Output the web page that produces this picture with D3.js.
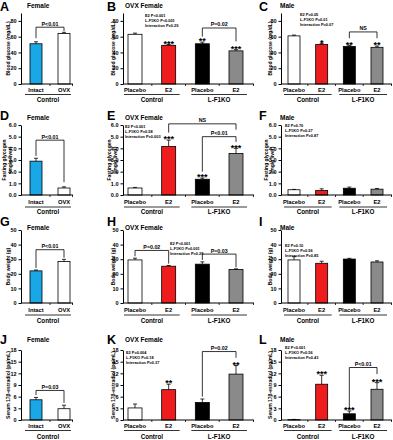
<!DOCTYPE html>
<meta charset="utf-8">
<style>
body { margin: 0; background: #fff; }
svg { font-family: "Liberation Sans", Arial, sans-serif; font-weight: bold; }
.axis path, .axis line { stroke: #000; stroke-width: 1px; }
.axis text { font-size: 5.5px; font-weight: bold; fill: #000; font-family: "Liberation Sans", Arial, sans-serif; }
</style>
<body>
<script src="https://d3js.org/d3.v7.min.js"></script>
<script>

// ---- categories / labels
var femaleCats = ["Intact", "OVX"];
var treatCats = ["Placebo", "E2", "Placebo", "E2"];
var femaleGroups = ["Control"];
var treatGroups = ["Control", "L-F1KO"];

// ---- blood glucose (mg/dL)
var glucoseFemale = [51, 64], glucoseFemaleErr = [2.5, 1.5];
var glucoseOvx = [63, 49, 51, 42], glucoseOvxErr = [1.5, 1, 2, 1.5];
var glucoseMale = [61, 50, 47.5, 46.5], glucoseMaleErr = [1, 1.5, 1.5, 1.5];

// ---- fasting glycogen (mg/g liver)
var glycogenFemale = [2.9, 0.6], glycogenFemaleErr = [0.25, 0.1];
var glycogenOvx = [0.6, 4.15, 1.35, 3.55], glycogenOvxErr = [0.05, 0.55, 0.1, 0.45];
var glycogenMale = [0.45, 0.38, 0.58, 0.5], glycogenMaleErr = [0.03, 0.15, 0.1, 0.06];

// ---- body weight (g)
var weightFemale = [22, 28.4], weightFemaleErr = [0.6, 1.5];
var weightOvx = [29.5, 25.2, 26.6, 22.9], weightOvxErr = [1.2, 0.5, 1.6, 0.5];
var weightMale = [29.5, 27.2, 30.1, 28.1], weightMaleErr = [2.2, 1.4, 0.5, 0.8];

// ---- serum 17b-estradiol (pg/mL)
var estFemale = [5.2, 2.9], estFemaleErr = [0.6, 0.9];
var estOvx = [3.1, 7.8, 4.5, 11.8], estOvxErr = [1.0, 1.4, 0.9, 2.2];
var estMale = [0.1, 9.2, 1.6, 7.9], estMaleErr = [0.05, 2.3, 0.7, 1.7];

// ---- significance marks
var starsGlucoseOvx = ["", "***", "**", "***"];
var starsGlucoseMale = ["", "*", "**", "**"];
var starsGlycogenOvx = ["", "***", "***", "***"];
var starsEstOvx = ["", "**", "", "**"];
var starsEstMale = ["", "***", "***", "***"];
var noStars = ["", "", "", ""];

// ---- two-way ANOVA text
var statsGlucoseOvx = ["E2 P<0.001", "L-F1KO P<0.001", "Interaction P=0.29"];
var statsGlucoseMale = ["E2 P=0.05", "L-F1KO P=0.01", "Interaction P=0.07"];
var statsGlycogenOvx = ["E2 P<0.001", "L-F1KO P=0.58", "Interaction P=0.003"];
var statsGlycogenMale = ["E2 P=0.70", "L-F1KO P=0.27", "Interaction P=0.87"];
var statsWeightOvx = ["E2 P<0.001", "L-F1KO P=0.001", "Interaction P=0.28"];
var statsWeightMale = ["E2 P=0.10", "L-F1KO P=0.56", "Interaction P=0.85"];
var statsEstOvx = ["E2 P=0.004", "L-F1KO P=0.18", "Interaction P=0.37"];
var statsEstMale = ["E2 P<0.001", "L-F1KO P=0.56", "Interaction P=0.43"];

var colors2 = ["#1aa7e6", "#ffffff"];
var colors4 = ["#ffffff", "#ee1c1c", "#000000", "#8a8a8a"];

// layout of the 3 columns and 4 rows
var cols = [
  {axisX: 21, end: 73, c0: 36, c1: 64, barW: 12, letterX: 0, titleX: 27, ylabX: 8},
  {axisX: 123, end: 254, c0: 135, c1: 236, barW: 14, letterX: 107, titleX: 125, ylabX: 113},
  {axisX: 281, end: 392, c0: 294, c1: 377, barW: 12, letterX: 259, titleX: 280, ylabX: 270}
];
var rows = [
  {base: 84, top: 13, max: 90, ticks: [0, 20, 40, 60, 80], titleY: 8, letterY: 11, labY: 91.5, ulY: 94.5, grpY: 102},
  {base: 195, top: 125, max: 6, ticks: [0, 1, 2, 3, 4, 5, 6], titleY: 120, letterY: 119.5, labY: 204, ulY: 207, grpY: 214},
  {base: 303, top: 230, max: 50, ticks: [0, 10, 20, 30, 40, 50], titleY: 230, letterY: 225.5, labY: 312, ulY: 315, grpY: 323},
  {base: 420, top: 350, max: 18, ticks: [0, 3, 6, 9, 12, 15, 18], titleY: 342, letterY: 344, labY: 427.5, ulY: 430.5, grpY: 439}
];

var panels = [
  {letter: "A", title: "Female", col: 0, row: 0, ylab: ["Blood glucose (mg/dL)"], cats: femaleCats, groups: femaleGroups,
   vals: glucoseFemale, errs: glucoseFemaleErr, stars: noStars, brackets: [[0, 1, 72, 58, 67, "P<0.01"]]},
  {letter: "B", title: "OVX Female", col: 1, row: 0, ylab: ["Blood glucose (mg/dL)"], cats: treatCats, groups: treatGroups,
   vals: glucoseOvx, errs: glucoseOvxErr, stars: starsGlucoseOvx, stats: statsGlucoseOvx, statsAt: [22, 17],
   brackets: [[2, 3, 71, 60, 54, "P=0.02"]]},
  {letter: "C", title: "Male", col: 2, row: 0, ylab: ["Blood glucose (mg/dL)"], cats: treatCats, groups: treatGroups,
   vals: glucoseMale, errs: glucoseMaleErr, stars: starsGlucoseMale, stats: statsGlucoseMale, statsAt: [19, 16],
   brackets: [[2, 3, 66, 58, 58, "NS"]]},

  {letter: "D", title: "Female", col: 0, row: 1, ylab: ["Fasting glycogen", "(mg/g liver)"], cats: femaleCats, groups: femaleGroups,
   vals: glycogenFemale, errs: glycogenFemaleErr, stars: noStars, brackets: [[0, 1, 4.7, 3.35, 1.1, "P<0.01"]]},
  {letter: "E", title: "OVX Female", col: 1, row: 1, ylab: ["Fasting glycogen", "(mg/g liver)"], cats: treatCats, groups: treatGroups,
   vals: glycogenOvx, errs: glycogenOvxErr, stars: starsGlycogenOvx, stats: statsGlycogenOvx, statsAt: [2, 128],
   brackets: [[1, 3, 6.1, 5.35, 5.6, "NS"], [2, 3, 5.0, 2.0, 4.55, "P<0.01"]]},
  {letter: "F", title: "Male", col: 2, row: 1, ylab: ["Fasting glycogen", "(mg/g liver)"], cats: treatCats, groups: treatGroups,
   vals: glycogenMale, errs: glycogenMaleErr, stars: noStars, stats: statsGlycogenMale, statsAt: [4, 127], brackets: []},

  {letter: "G", title: "Female", col: 0, row: 2, ylab: ["Body weight (g)"], cats: femaleCats, groups: femaleGroups,
   vals: weightFemale, errs: weightFemaleErr, stars: noStars, brackets: [[0, 1, 36.5, 24, 31, "P<0.01"]]},
  {letter: "H", title: "OVX Female", col: 1, row: 2, ylab: ["Body weight (g)"], cats: treatCats, groups: treatGroups,
   vals: weightOvx, errs: weightOvxErr, stars: noStars, stats: statsWeightOvx, statsAt: [47, 245],
   brackets: [[0, 1, 36, 32, 27, "P=0.02"], [2, 3, 33.5, 29.5, 24.5, "P=0.03"]]},
  {letter: "I", title: "Male", col: 2, row: 2, ylab: ["Body weight (g)"], cats: treatCats, groups: treatGroups,
   vals: weightMale, errs: weightMaleErr, stars: noStars, stats: statsWeightMale, statsAt: [4, 247], brackets: []},

  {letter: "J", title: "Female", col: 0, row: 3, ylab: ["Serum 17\u03b2-estradiol (pg/mL)"], cats: femaleCats, groups: femaleGroups,
   vals: estFemale, errs: estFemaleErr, stars: noStars, brackets: [[0, 1, 7.6, 6.4, 4.4, "P=0.03"]]},
  {letter: "K", title: "OVX Female", col: 1, row: 3, ylab: ["Serum 17\u03b2-estradiol (pg/mL)"], cats: treatCats, groups: treatGroups,
   vals: estOvx, errs: estOvxErr, stars: starsEstOvx, stats: statsEstOvx, statsAt: [3, 354],
   brackets: [[2, 3, 17.6, 6.0, 16.0, "P=0.02"]]},
  {letter: "L", title: "Male", col: 2, row: 3, ylab: ["Serum 17\u03b2-estradiol (pg/mL)"], cats: treatCats, groups: treatGroups,
   vals: estMale, errs: estMaleErr, stars: starsEstMale, stats: statsEstMale, statsAt: [4, 349],
   brackets: [[2, 3, 13.5, 2.8, 11.8, "P<0.01"]]}
];

var svg = d3.select("body").append("svg")
    .attr("width", 393)
    .attr("height", 440);

panels.forEach(function(p) {
  var c = cols[p.col], r = rows[p.row];
  var n = p.vals.length;
  var colors = n === 2 ? colors2 : colors4;

  var x = d3.scalePoint().domain(d3.range(n)).range([c.c0, c.c1]);
  var y = d3.scaleLinear().domain([0, r.max]).range([r.base, r.top]);
  var g = svg.append("g");

  // panel letter + title
  g.append("text").attr("x", c.letterX).attr("y", r.letterY)
      .style("font-size", "12.5px").text(p.letter);
  g.append("text").attr("x", c.titleX).attr("y", r.titleY)
      .style("font-size", "6.5px").text(p.title);

  // y axis
  g.append("g").attr("class", "axis")
      .attr("transform", "translate(" + c.axisX + ",0)")
      .call(d3.axisLeft(y).tickValues(r.ticks).tickSize(2.5).tickSizeOuter(0).tickPadding(2));

  // y label
  var ymid = (r.base + r.top) / 2;
  var yl = g.append("text")
      .attr("transform", "translate(" + c.ylabX + "," + ymid + ") rotate(-90)")
      .attr("text-anchor", "middle")
      .style("font-size", "5px");
  p.ylab.forEach(function(line, i) {
    yl.append("tspan").attr("x", 0).attr("dy", i === 0 ? (p.ylab.length > 1 ? -2.5 : 1.5) : 6).text(line);
  });

  // bars
  g.selectAll("rect.bar").data(p.vals).enter().append("rect")
      .attr("x", function(d, i) { return x(i) - c.barW / 2; })
      .attr("y", function(d) { return y(d); })
      .attr("width", c.barW)
      .attr("height", function(d) { return r.base - y(d); })
      .attr("fill", function(d, i) { return colors[i]; })
      .attr("stroke", "#000").attr("stroke-width", 0.8);

  // error bars + stars
  p.vals.forEach(function(v, i) {
    var e = p.errs[i];
    g.append("line").attr("x1", x(i)).attr("x2", x(i)).attr("y1", y(v)).attr("y2", y(v + e))
        .attr("stroke", "#000").attr("stroke-width", 0.8);
    g.append("line").attr("x1", x(i) - 2).attr("x2", x(i) + 2).attr("y1", y(v + e)).attr("y2", y(v + e))
        .attr("stroke", "#000").attr("stroke-width", 0.8);
    if (p.stars[i]) {
      g.append("text").attr("x", x(i)).attr("y", y(v + e) + 2.2)
          .attr("text-anchor", "middle").style("font-size", "9px").text(p.stars[i]);
    }
  });

  // x axis line with small ticks
  g.append("line").attr("x1", c.axisX).attr("x2", c.end).attr("y1", r.base).attr("y2", r.base)
      .attr("stroke", "#000").attr("stroke-width", 1);
  var tickXs = [];
  for (var i = 0; i < n - 1; i++) tickXs.push((x(i) + x(i + 1)) / 2);
  tickXs.push(c.end - 0.5);
  tickXs.forEach(function(tx) {
    g.append("line").attr("x1", tx).attr("x2", tx).attr("y1", r.base).attr("y2", r.base + 2)
        .attr("stroke", "#000").attr("stroke-width", 0.8);
  });

  // category labels
  p.cats.forEach(function(lab, i) {
    g.append("text").attr("x", x(i)).attr("y", r.labY)
        .attr("text-anchor", "middle").style("font-size", "5.8px").text(lab);
  });

  // group underline + label
  p.groups.forEach(function(lab, k) {
    var a = x(k * 2) - c.barW / 2 - 4, b = x(k * 2 + 1) + c.barW / 2 + 4;
    if (n === 2) { a = c.axisX + 4; b = c.end - 2; }
    g.append("line").attr("x1", a).attr("x2", b).attr("y1", r.ulY).attr("y2", r.ulY)
        .attr("stroke", "#000").attr("stroke-width", 0.8);
    g.append("text").attr("x", (a + b) / 2).attr("y", r.grpY)
        .attr("text-anchor", "middle").style("font-size", "6.3px").text(lab);
  });

  // brackets
  p.brackets.forEach(function(bk) {
    var x1 = x(bk[0]), x2 = x(bk[1]);
    g.append("path")
        .attr("d", "M" + x1 + "," + y(bk[3]) + "V" + y(bk[2]) + "H" + x2 + "V" + y(bk[4]))
        .attr("fill", "none").attr("stroke", "#000").attr("stroke-width", 0.8);
    g.append("text").attr("x", (x1 + x2) / 2).attr("y", y(bk[2]) - 1.5)
        .attr("text-anchor", "middle").style("font-size", "5.3px").text(bk[5]);
  });

  // anova text
  if (p.stats) {
    p.stats.forEach(function(s, i) {
      g.append("text").attr("x", c.axisX + p.statsAt[0]).attr("y", p.statsAt[1] + i * 5)
          .style("font-size", "3.9px").text(s);
    });
  }
});

</script>
</body>
